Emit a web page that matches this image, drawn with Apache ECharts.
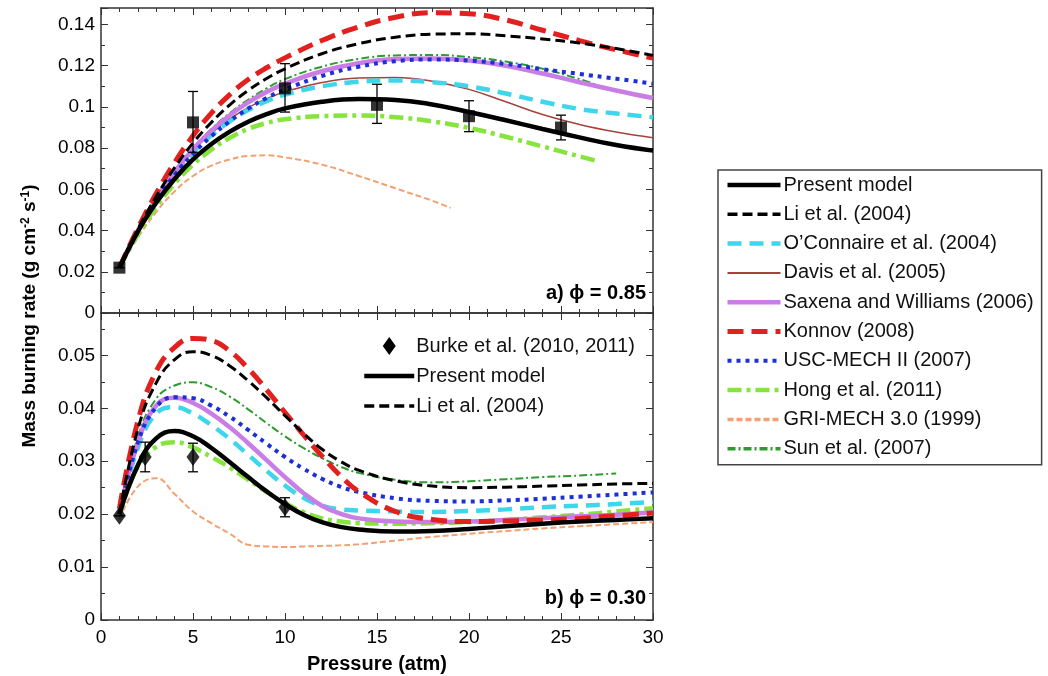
<!DOCTYPE html>
<html>
<head>
<meta charset="utf-8">
<script src="https://cdn.jsdelivr.net/npm/echarts@6/dist/echarts.min.js"></script>
<style>
  html, body { margin: 0; padding: 0; background: #fff; }
  #box { width: 1048px; height: 676px; }
</style>
</head>
<body>
<div id="box"></div>
<script>
// ---- a) phi = 0.85 ----
var xTop = [1, 2, 3, 4, 5, 6, 7, 8, 9, 10, 12, 14, 16, 18, 20, 22, 24, 26, 28, 30];
var xTop27 = [1, 2, 3, 4, 5, 6, 7, 8, 9, 10, 12, 14, 16, 18, 20, 22, 24, 26, 27];
var xTop19 = [1, 2, 3, 4, 5, 6, 7, 8, 9, 10, 12, 14, 16, 18, 19];

var presentA = [0.022, 0.0395, 0.0535, 0.0650, 0.0745, 0.0820, 0.0880, 0.0928, 0.0965, 0.0993, 0.1025, 0.1038, 0.1034, 0.1012, 0.0975, 0.0935, 0.0893, 0.0852, 0.0815, 0.0788];
var liA      = [0.022, 0.0405, 0.0565, 0.0705, 0.0825, 0.0925, 0.1010, 0.1080, 0.1138, 0.1185, 0.1258, 0.1307, 0.1338, 0.1353, 0.1355, 0.1345, 0.1330, 0.1310, 0.1283, 0.1250];
var oconA    = [0.022, 0.0398, 0.0550, 0.0675, 0.0778, 0.0862, 0.0930, 0.0985, 0.1028, 0.1060, 0.1100, 0.1122, 0.1128, 0.1120, 0.1100, 0.1065, 0.1025, 0.0990, 0.0968, 0.0950];
var davisA   = [0.022, 0.0400, 0.0555, 0.0683, 0.0788, 0.0873, 0.0942, 0.0997, 0.1040, 0.1073, 0.1118, 0.1140, 0.1143, 0.1125, 0.1085, 0.1025, 0.0963, 0.0915, 0.0878, 0.0850];
var saxenaA  = [0.022, 0.0400, 0.0555, 0.0685, 0.0795, 0.0885, 0.0960, 0.1022, 0.1073, 0.1113, 0.1173, 0.1212, 0.1232, 0.1235, 0.1225, 0.1200, 0.1162, 0.1120, 0.1080, 0.1043];
var konnovA  = [0.022, 0.0410, 0.0580, 0.0730, 0.0860, 0.0970, 0.1060, 0.1133, 0.1190, 0.1238, 0.1322, 0.1388, 0.1435, 0.1457, 0.1452, 0.1422, 0.1372, 0.1322, 0.1277, 0.1237];
var uscA     = [0.022, 0.0395, 0.0545, 0.0670, 0.0772, 0.0858, 0.0930, 0.0992, 0.1043, 0.1085, 0.1150, 0.1195, 0.1222, 0.1230, 0.1225, 0.1208, 0.1183, 0.1160, 0.1137, 0.1113];
var hongA    = [0.022, 0.0380, 0.0515, 0.0628, 0.0720, 0.0793, 0.0850, 0.0893, 0.0922, 0.0940, 0.0955, 0.0958, 0.0950, 0.0930, 0.0898, 0.0855, 0.0808, 0.0760, 0.0737];
var griA     = [0.022, 0.0365, 0.0490, 0.0590, 0.0665, 0.0715, 0.0745, 0.0762, 0.0765, 0.0755, 0.0720, 0.0665, 0.0605, 0.0545, 0.0510];
var sunA     = [0.022, 0.0405, 0.0560, 0.0690, 0.0800, 0.0893, 0.0970, 0.1035, 0.1090, 0.1135, 0.1195, 0.1233, 0.1250, 0.1252, 0.1242, 0.1220, 0.1185, 0.1135, 0.1105];

var expXA  = [1, 5, 10, 15, 20, 25];
var expYA  = [0.022, 0.0925, 0.109, 0.101, 0.0955, 0.090];
var expLoA = [0.022, 0.078, 0.0975, 0.092, 0.088, 0.084];
var expHiA = [0.022, 0.1075, 0.121, 0.111, 0.103, 0.096];

// ---- b) phi = 0.30 ----
var xBot = [1, 2, 3, 4, 5, 6, 7, 8, 9, 10, 11, 12, 13, 14, 16, 18, 20, 22, 24, 26, 28, 30];
var xBot28 = [1, 2, 3, 4, 5, 6, 7, 8, 9, 10, 11, 12, 13, 14, 16, 18, 20, 22, 24, 26, 28];

var presentB = [0.0200, 0.0292, 0.0343, 0.0357, 0.0347, 0.0325, 0.0298, 0.0270, 0.0243, 0.0219, 0.0199, 0.0185, 0.0176, 0.0171, 0.0167, 0.0168, 0.0172, 0.0177, 0.0182, 0.0186, 0.0189, 0.0192];
var liB      = [0.0200, 0.0360, 0.0448, 0.0492, 0.0507, 0.0500, 0.0480, 0.0452, 0.0420, 0.0386, 0.0353, 0.0323, 0.0300, 0.0283, 0.0263, 0.0253, 0.0250, 0.0251, 0.0253, 0.0255, 0.0257, 0.0258];
var oconB    = [0.0200, 0.0325, 0.0390, 0.0402, 0.0390, 0.0368, 0.0342, 0.0312, 0.0282, 0.0254, 0.0231, 0.0216, 0.0209, 0.0207, 0.0205, 0.0204, 0.0206, 0.0209, 0.0213, 0.0216, 0.0219, 0.0223];
var saxenaB  = [0.0200, 0.0335, 0.0405, 0.0420, 0.0410, 0.0390, 0.0364, 0.0334, 0.0302, 0.0270, 0.0240, 0.0216, 0.0201, 0.0192, 0.0186, 0.0185, 0.0186, 0.0189, 0.0192, 0.0196, 0.0199, 0.0203];
var konnovB  = [0.0210, 0.0375, 0.0470, 0.0515, 0.0532, 0.0528, 0.0508, 0.0475, 0.0435, 0.0392, 0.0350, 0.0310, 0.0273, 0.0243, 0.0205, 0.0190, 0.0186, 0.0187, 0.0189, 0.0192, 0.0197, 0.0202];
var uscB     = [0.0200, 0.0335, 0.0402, 0.0421, 0.0419, 0.0405, 0.0384, 0.0359, 0.0333, 0.0308, 0.0286, 0.0267, 0.0252, 0.0242, 0.0230, 0.0225, 0.0224, 0.0226, 0.0229, 0.0233, 0.0237, 0.0241];
var hongB    = [0.0200, 0.0290, 0.0327, 0.0336, 0.0326, 0.0308, 0.0288, 0.0265, 0.0242, 0.0221, 0.0204, 0.0192, 0.0186, 0.0183, 0.0182, 0.0183, 0.0185, 0.0189, 0.0194, 0.0199, 0.0205, 0.0211];
var griB     = [0.0190, 0.0252, 0.0268, 0.0238, 0.0205, 0.0183, 0.0163, 0.0142, 0.0139, 0.0138, 0.0139, 0.0140, 0.0141, 0.0143, 0.0150, 0.0157, 0.0163, 0.0168, 0.0173, 0.0177, 0.0181, 0.0185];
var sunB     = [0.0200, 0.0345, 0.0418, 0.0443, 0.0449, 0.0440, 0.0422, 0.0398, 0.0372, 0.0347, 0.0325, 0.0306, 0.0290, 0.0278, 0.0265, 0.0260, 0.0262, 0.0266, 0.0270, 0.0273, 0.0277];

var burkeX  = [1, 2.4, 5, 10];
var burkeY  = [0.0197, 0.0308, 0.0308, 0.0213];
var burkeLo = [0.0197, 0.0280, 0.0280, 0.0195];
var burkeHi = [0.0197, 0.0336, 0.0334, 0.0231];

function pairs(xs, ys) {
  return xs.map(function (x, i) { return [x, ys[i]]; });
}
function bars(xs, lo, hi) {
  return xs.map(function (x, i) { return [x, lo[i], hi[i]]; });
}

// lw = width of the sample line in the legend
var styles = {
  'Present model':              { color: '#000000', width: 4.5, lw: 4.5, type: 'solid' },
  'Li et al. (2004)':           { color: '#000000', width: 3, lw: 3.5, type: [10, 5] },
  'O\u2019Connaire et al. (2004)': { color: '#3dd6ea', width: 4.5, lw: 4.5, type: [14, 8] },
  'Davis et al. (2005)':        { color: '#a5423c', width: 1.5, lw: 2, type: 'solid' },
  'Saxena and Williams (2006)': { color: '#c97ee6', width: 4.5, lw: 4.5, type: 'solid' },
  'Konnov (2008)':              { color: '#e2201e', width: 5, lw: 5, type: [16, 8] },
  'USC-MECH II (2007)':         { color: '#1d2fd6', width: 4, lw: 4, type: [4, 5] },
  'Hong et al. (2011)':         { color: '#86e43c', width: 4.5, lw: 4.5, type: [14, 5, 4, 5] },
  'GRI-MECH 3.0 (1999)':        { color: '#f2a171', width: 2, lw: 3.5, type: [6, 3] },
  'Sun et al. (2007)':          { color: '#2f9a2f', width: 2, lw: 3.5, type: [8, 3, 2, 3] }
};
var legendNames = Object.keys(styles);

function curve(name, idx, data, z) {
  var s = styles[name];
  return {
    name: name, type: 'line', xAxisIndex: idx, yAxisIndex: idx,
    data: data, smooth: 0.45,
    symbol: 'none', showSymbol: false, z: z,
    itemStyle: { color: s.color, opacity: 0 },
    lineStyle: { color: s.color, width: s.width, type: s.type, cap: 'butt' }
  };
}
function legendItem(name) {
  var s = styles[name];
  return { name: name, lineStyle: { color: s.color, width: s.lw, type: s.type } };
}

function errorBars(idx, data) {
  return {
    type: 'custom', xAxisIndex: idx, yAxisIndex: idx, z: 20, silent: true,
    data: data,
    encode: { x: 0, y: [1, 2] },
    renderItem: function (params, api) {
      var lo = api.coord([api.value(0), api.value(1)]);
      var hi = api.coord([api.value(0), api.value(2)]);
      var st = { stroke: '#000', lineWidth: 1.3 };
      return {
        type: 'group',
        children: [
          { type: 'line', shape: { x1: lo[0], y1: lo[1], x2: hi[0], y2: hi[1] }, style: st },
          { type: 'line', shape: { x1: lo[0] - 5, y1: lo[1], x2: lo[0] + 5, y2: lo[1] }, style: st },
          { type: 'line', shape: { x1: hi[0] - 5, y1: hi[1], x2: hi[0] + 5, y2: hi[1] }, style: st }
        ]
      };
    }
  };
}

var font = 'Liberation Sans, Arial, sans-serif';

function xAx(grid, pos, showLabel, name) {
  return {
    type: 'value', gridIndex: grid, position: pos, min: 0, max: 30, interval: 5,
    name: name || '', nameLocation: 'middle', nameGap: 34,
    nameTextStyle: { fontFamily: font, fontSize: 20, fontWeight: 'bold', color: '#000' },
    axisLine: { show: true, onZero: false, lineStyle: { color: '#333', width: 1.5 } },
    axisTick: { show: true, inside: true, length: 7, lineStyle: { color: '#333' } },
    minorTick: { show: true, splitNumber: 5, length: 4, lineStyle: { color: '#333' } },
    axisLabel: { show: showLabel, fontFamily: font, fontSize: 19, color: '#000', margin: 8 },
    splitLine: { show: false }
  };
}
function yAx(grid, pos, max, interval, minor, showLabel) {
  return {
    type: 'value', gridIndex: grid, position: pos, min: 0, max: max, interval: interval,
    axisLine: { show: true, onZero: false, lineStyle: { color: '#333', width: 1.5 } },
    axisTick: { show: true, inside: true, length: 7, lineStyle: { color: '#333' } },
    minorTick: { show: true, splitNumber: minor, length: 4, lineStyle: { color: '#333' } },
    axisLabel: {
      show: showLabel, showMaxLabel: false, fontFamily: font, fontSize: 19, color: '#000', margin: 6,
      formatter: function (v) { return String(+v.toFixed(3)); }
    },
    splitLine: { show: false }
  };
}

var series = [];
var topData = {
  'Present model': pairs(xTop, presentA),
  'Li et al. (2004)': pairs(xTop, liA),
  'O\u2019Connaire et al. (2004)': pairs(xTop, oconA),
  'Davis et al. (2005)': pairs(xTop, davisA),
  'Saxena and Williams (2006)': pairs(xTop, saxenaA),
  'Konnov (2008)': pairs(xTop, konnovA),
  'USC-MECH II (2007)': pairs(xTop, uscA),
  'Hong et al. (2011)': pairs(xTop27, hongA),
  'GRI-MECH 3.0 (1999)': pairs(xTop19, griA),
  'Sun et al. (2007)': pairs(xTop27, sunA)
};
var botData = {
  'Present model': pairs(xBot, presentB),
  'Li et al. (2004)': pairs(xBot, liB),
  'O\u2019Connaire et al. (2004)': pairs(xBot, oconB),
  'Saxena and Williams (2006)': pairs(xBot, saxenaB),
  'Konnov (2008)': pairs(xBot, konnovB),
  'USC-MECH II (2007)': pairs(xBot, uscB),
  'Hong et al. (2011)': pairs(xBot, hongB),
  'GRI-MECH 3.0 (1999)': pairs(xBot, griB),
  'Sun et al. (2007)': pairs(xBot28, sunB)
};
// drawing order, bottom to top
var order = ['GRI-MECH 3.0 (1999)', 'Sun et al. (2007)', 'Hong et al. (2011)', 'Davis et al. (2005)',
  'O\u2019Connaire et al. (2004)', 'Saxena and Williams (2006)', 'USC-MECH II (2007)',
  'Konnov (2008)', 'Li et al. (2004)', 'Present model'];
order.forEach(function (n, k) {
  if (topData[n]) series.push(curve(n, 0, topData[n], 2 + k));
  if (botData[n]) series.push(curve(n, 2, botData[n], 2 + k));
});

series.push(errorBars(0, bars(expXA, expLoA, expHiA)));
series.push({
  name: 'Experiment (0.85)', type: 'scatter', xAxisIndex: 0, yAxisIndex: 0, z: 21,
  symbol: 'rect', symbolSize: 12, itemStyle: { color: '#000' },
  data: pairs(expXA, expYA)
});
series.push(errorBars(2, bars(burkeX, burkeLo, burkeHi)));
series.push({
  name: 'Burke et al. (2010, 2011)', type: 'scatter', xAxisIndex: 2, yAxisIndex: 2, z: 21,
  symbol: 'diamond', symbolSize: [13, 18], itemStyle: { color: '#000' },
  data: pairs(burkeX, burkeY)
});

var myChart = echarts.init(document.getElementById('box'));
var option = {
  animation: false,
  backgroundColor: '#fff',
  textStyle: { fontFamily: font },
  grid: [
    { left: 101, top: 8, width: 552, height: 305 },
    { left: 101, top: 313, width: 552, height: 307 }
  ],
  xAxis: [
    xAx(0, 'bottom', false),
    xAx(0, 'top', false),
    xAx(1, 'bottom', true, 'Pressure (atm)'),
    xAx(1, 'top', false)
  ],
  yAxis: [
    yAx(0, 'left', 0.148, 0.02, 2, true),
    yAx(0, 'right', 0.148, 0.02, 2, false),
    yAx(1, 'left', 0.058, 0.01, 2, true),
    yAx(1, 'right', 0.058, 0.01, 2, false)
  ],
  legend: [
    {
      orient: 'vertical', left: 718, top: 170,
      data: legendNames.map(legendItem),
      itemWidth: 53, itemHeight: 14, itemGap: 9.3,
      itemStyle: { opacity: 0 },
      borderColor: '#444', borderWidth: 1.5, padding: [5, 8, 6, 7],
      textStyle: { fontFamily: font, fontSize: 20, color: '#111', padding: [0, 0, 0, -2] }
    },
    {
      orient: 'vertical', left: 357, top: 331,
      data: [
        { name: 'Burke et al. (2010, 2011)', icon: 'path://M0,-9L6.5,0L0,9L-6.5,0Z', itemStyle: { opacity: 1, color: '#000' } },
        legendItem('Present model'), legendItem('Li et al. (2004)')
      ],
      itemWidth: 50, itemHeight: 18, itemGap: 10,
      itemStyle: { opacity: 0 },
      textStyle: { fontFamily: font, fontSize: 20, color: '#111', padding: [0, 0, 0, -3] }
    }
  ],
  graphic: [
    {
      type: 'text', x: 30, y: 316, rotation: Math.PI / 2,
      style: {
        text: 'Mass burning rate (g cm{sup|-2} s{sup|-1})',
        fontFamily: font, fontSize: 19, fontWeight: 'bold', fill: '#000',
        align: 'center', verticalAlign: 'middle',
        rich: { sup: { fontSize: 12, fontWeight: 'bold', fontFamily: font, verticalAlign: 'top', padding: [0, 0, 9, 0] } }
      }
    },
    {
      type: 'text', x: 646, y: 293,
      style: { text: 'a) \u03d5 = 0.85', fontFamily: font, fontSize: 20, fontWeight: 'bold', fill: '#000', align: 'right', verticalAlign: 'middle' }
    },
    {
      type: 'text', x: 646, y: 598,
      style: { text: 'b) \u03d5 = 0.30', fontFamily: font, fontSize: 20, fontWeight: 'bold', fill: '#000', align: 'right', verticalAlign: 'middle' }
    }
  ],
  series: series
};
if (option && typeof option === 'object') {
  myChart.setOption(option, true);
}
</script>
</body>
</html>
